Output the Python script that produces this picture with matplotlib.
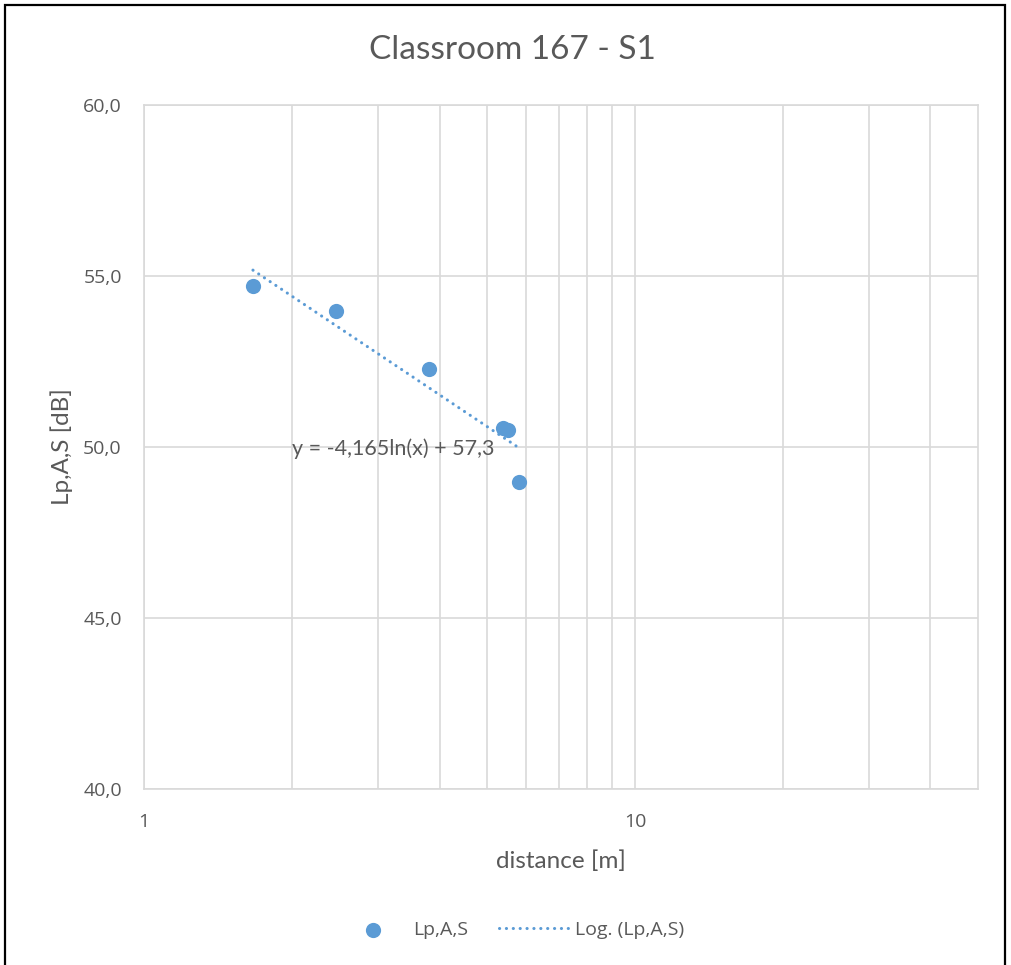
import numpy as np
import matplotlib.pyplot as plt
from matplotlib.ticker import FixedLocator, NullFormatter, FuncFormatter
from matplotlib.patches import Rectangle

# measured distances [m] and A-weighted levels [dB]
distance = [1.667, 2.46, 3.80, 5.38, 5.51, 5.80]
level = [54.71, 53.98, 52.28, 50.56, 50.50, 48.98]

# logarithmic trendline y = a*ln(x) + b
fit_a = -4.165
fit_b = 57.3
eq_label = "y = -4,165ln(x) + 57,3"

title = "Classroom 167 - S1"
blue = "#5b9bd5"
grey_text = "#595959"
grid_col = "#d9d9d9"
tick_font = ["Open Sans", "DejaVu Sans"]

plt.rcParams["font.family"] = ["Lato", "DejaVu Sans"]

W, H = 1011, 965
fig = plt.figure(figsize=(W / 100, H / 100), dpi=100)
ax = fig.add_axes([144 / W, 1 - 789 / H, (978 - 144) / W, (789 - 105) / H])

ax.scatter(distance, level, s=120, color=blue, zorder=3, label="Lp,A,S", linewidths=0)

# round dots for the trendline
xt = np.linspace(min(distance), max(distance), 200)
ax.plot(xt, fit_a * np.log(xt) + fit_b, color=blue, lw=2.2,
        linestyle=(0, (0.05, 2.2)), dash_capstyle="round", zorder=2,
        label="Log. (Lp,A,S)")

ax.text(2.0, 49.94, eq_label, ha="left", va="center", fontsize=15.5, color=grey_text)

ax.set_xscale("log")
ax.set_xlim(1, 50)
ax.set_ylim(40, 60)
ax.xaxis.set_major_locator(FixedLocator([1, 10]))
ax.xaxis.set_minor_locator(FixedLocator([2, 3, 4, 5, 6, 7, 8, 9, 20, 30, 40]))
ax.xaxis.set_minor_formatter(NullFormatter())
ax.xaxis.set_major_formatter(FuncFormatter(lambda v, p: f"{v:g}"))
ax.set_yticks([40, 45, 50, 55, 60])
ax.yaxis.set_major_formatter(FuncFormatter(lambda v, p: f"{v:.1f}".replace(".", ",")))

ax.grid(True, which="both", color=grid_col, lw=1.2)
ax.set_axisbelow(True)
ax.tick_params(which="both", length=0, colors=grey_text, labelsize=14)
ax.tick_params(axis="y", pad=16)
ax.tick_params(axis="x", pad=17)
for lab in ax.get_xticklabels() + ax.get_yticklabels():
    lab.set_family(tick_font)
for s in ax.spines.values():
    s.set_color(grid_col)
    s.set_linewidth(1.2)

ax.set_xlabel("distance [m]", fontsize=17.5, color=grey_text, va="center")
ax.xaxis.set_label_coords(0.5, (789 - 861) / (789 - 105))
ax.set_ylabel("Lp,A,S [dB]", fontsize=17.5, color=grey_text, va="center")
ax.yaxis.set_label_coords((62 - 144) / (978 - 144), 0.5)

fig.text(512 / W, 1 - 50 / H, title, fontsize=24, color=grey_text, ha="center", va="center")

fig.legend(loc="center", bbox_to_anchor=(511 / W, 1 - 930 / H), ncol=2, frameon=False,
           prop={"family": tick_font, "size": 14}, labelcolor=grey_text,
           handlelength=3.6, columnspacing=1.6, handletextpad=0.3)

# black frame around the chart area
fig.patches.append(Rectangle((5 / W, -0.05), 1000 / W, 1.05 - 5 / H,
                             transform=fig.transFigure, fill=False,
                             edgecolor="black", lw=1.6))

fig.savefig("out.png", dpi=100)
